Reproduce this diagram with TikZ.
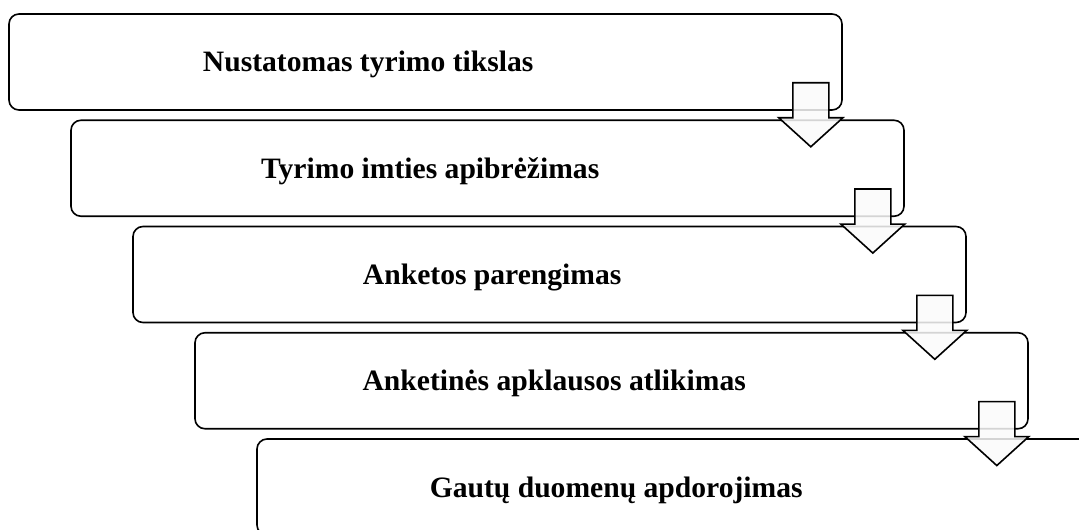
\documentclass[tikz,border=0pt]{standalone}
\usepackage{fontspec}
\setmainfont{Liberation Serif}
\usetikzlibrary{calc}

\tikzset{
    stagebox/.style={draw, line width=0.8pt, rounded corners=5pt, inner sep=0pt,
        minimum width=416.5pt, minimum height=48pt},
    stagetext/.style={font=\fontsize{14.8}{17}\selectfont\bfseries, inner sep=0pt, anchor=base},
    downarrow/.style={draw, line width=0.8pt, fill=gray!4, fill opacity=0.85, line join=miter}
}

\begin{document}
\begin{tikzpicture}[x=0.5pt,y=-0.5pt]
                \useasboundingbox (0,0) rectangle (1079,529);
                \clip (0,0) rectangle (1079,529);
                %stages
                    \foreach \i/\txt in {0/Nustatomas tyrimo tikslas,
                                         1/Tyrimo imties apibrėžimas,
                                         2/Anketos parengimas,
                                         3/Anketinės apklausos atlikimas,
                                         4/Gautų duomenų apdorojimas}
                    {
                        \node[stagebox] (box\i) at (425.5+62*\i,62+106.25*\i) {};
                        \node[stagetext] (txt\i) at ($(box\i.west)+(360,10)$) {\txt};
                    }
                %arrows
                    \foreach \i in {0,...,3}
                        \draw[downarrow] ($(box\i.south east)+(-50,-28)$) -- ++(36,0) -- ++(0,35)
                            -- ++(14,0) -- ($(box\i.south east)+(-32,36)$) -- ++(-32,-29)
                            -- ++(14,0) -- cycle;
            \end{tikzpicture}
\end{document}
